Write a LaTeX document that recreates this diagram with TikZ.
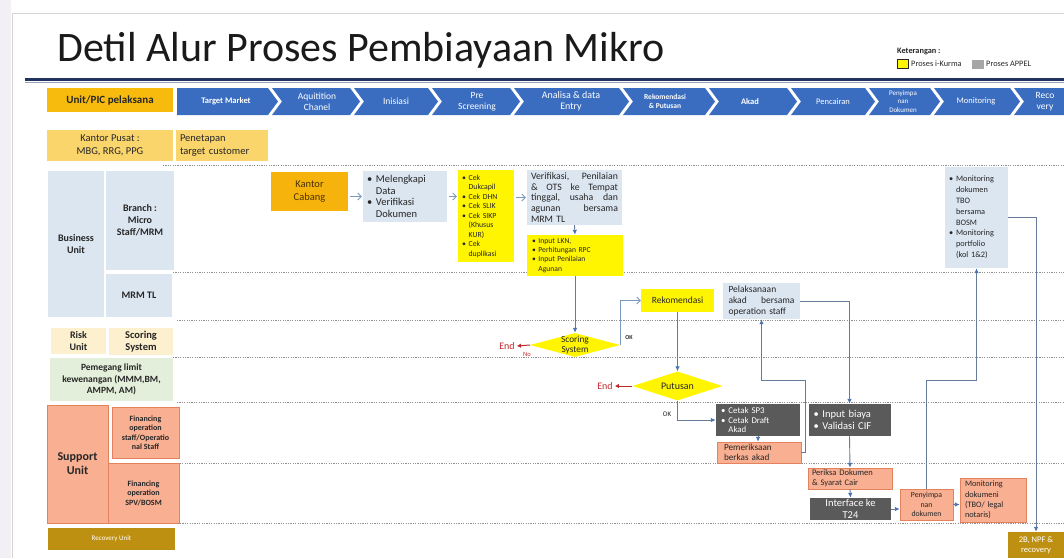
\documentclass[tikz,border=0pt]{standalone}
\usepackage{fontspec}
\setmainfont{Carlito}
\usetikzlibrary{arrows.meta,shapes.geometric}

\definecolor{ink}{HTML}{262626}
\definecolor{titleink}{HTML}{1A1A1A}
\definecolor{navy}{HTML}{1F3260}
\definecolor{navyshade}{HTML}{9AA3B8}
\definecolor{headgold}{HTML}{F7BB0E}
\definecolor{chevblue}{HTML}{3A6DC0}
\definecolor{pusat}{HTML}{FAD56C}
\definecolor{paleblue}{HTML}{DCE6F1}
\definecolor{cream}{HTML}{FDF0CF}
\definecolor{palegreen}{HTML}{E3EFDB}
\definecolor{salmon}{HTML}{F8AF92}
\definecolor{salmonline}{HTML}{E4825E}
\definecolor{darkgold}{HTML}{BE9012}
\definecolor{kurma}{HTML}{FFF500}
\definecolor{cabang}{HTML}{F6B30B}
\definecolor{cabangink}{HTML}{4A3300}
\definecolor{appel}{HTML}{5A5A5A}
\definecolor{legendgrey}{HTML}{A6A6A6}
\definecolor{flow}{HTML}{667A99}
\definecolor{tipblue}{HTML}{4A72AE}
\definecolor{barb}{HTML}{7C98BF}
\definecolor{endred}{HTML}{C0282C}
\definecolor{laneclr}{HTML}{8E8E8E}
\definecolor{edgegrey}{HTML}{F2F0F4}
\definecolor{edgeline}{HTML}{D6D6D6}

\newcommand\fsz[2]{\fontsize{#1}{#2}\selectfont}
\newcommand\bitem{\makebox[0.85em][l]{•}}
\newcommand\bcont{\hspace*{0.85em}}
% box given by its corners: [options]{name}{x1}{y1}{x2}{y2}{text}
\newcommand\cellbox[7][]{%
  \node[cell,minimum width={#5-#3},minimum height={#6-#4},#1] (#2)
    at ({(#3+#5)/2},{(#4+#6)/2}) {#7};}
% process chevron with a notch on its left: {left}{tip}
\newcommand\chevron[2]{%
  \fill[chevblue] (#1,88) -- ({#2-10},88) -- (#2,101.5) -- ({#2-10},115)
    -- (#1,115) -- ({#1+10},101.5) -- cycle;}

\tikzset{
  cell/.style={inner sep=0pt, align=center, text=ink},
  lane/.style={draw=laneclr, line width=0.7pt, dash pattern=on 1.1pt off 1.3pt},
  arr/.style={draw=flow, line width=0.9pt, -{Latex[length=5pt,width=4.5pt,color=tipblue]}},
  openarr/.style={draw=barb, line width=0.8pt, -{Straight Barb[length=3.5pt,width=7pt]}},
  endarr/.style={draw=endred, line width=1pt, -{Latex[length=4pt,width=4.5pt]}},
  endtxt/.style={text=endred, inner sep=0pt, font=\fsz{10}{12}},
  oktxt/.style={text=ink, inner sep=0pt, font=\bfseries\fsz{6}{7}},
  chevtxt/.style={text=white, align=center, inner sep=0pt, font=\fsz{9.5}{11}},
  legtxt/.style={anchor=west, inner sep=0pt, text=ink, font=\fsz{8.3}{9}},
}

\begin{document}
\begin{tikzpicture}[x=1pt,y=-1pt]
\useasboundingbox (0,0) rectangle (1064,558);

% slide edge
\fill[edgegrey] (0,0) rectangle (11,558);
\draw[edgeline, line width=0.8pt] (12,13) -- (1064,13);
\draw[edgeline, line width=0.8pt] (12,13) -- (12,558);

% title and rule
\node[anchor=base west, inner sep=0pt, text=titleink, font=\fsz{42}{50}] (title) at (57,61)
  {Detil Alur Proses Pembiayaan Mikro};
\draw[navy, line width=3pt] (25,79) -- (1064,79);
\draw[navyshade, line width=0.8pt] (25,82.5) -- (1064,82.5);

% legend
\node[legtxt, font=\bfseries\fsz{8.3}{9}] (legtitle) at (897,52) {Keterangan :};
\node[draw=ink, fill=kurma, line width=0.6pt, minimum width=11pt, minimum height=9pt, inner sep=0pt] (legkurma) at (903,64) {};
\node[legtxt] (legkurmatxt) at (911,64) {Proses i-Kurma};
\node[fill=legendgrey, minimum width=12pt, minimum height=9pt, inner sep=0pt] (legappel) at (978,64) {};
\node[legtxt] (legappeltxt) at (986,64) {Proses APPEL};

% header row
\cellbox[fill=headgold, font=\bfseries\fsz{11}{13}]{unitpic}{47}{88}{173}{112}{Unit/PIC pelaksana}
\fill[chevblue] (177,88) -- (268,88) -- (278,101.5) -- (268,115) -- (177,115) -- cycle;
\chevron{272}{360}
\chevron{354}{438}
\chevron{432}{520}
\chevron{514}{629}
\chevron{623}{715}
\chevron{709}{797}
\chevron{791}{875}
\chevron{869}{940}
\chevron{934}{1020}
\chevron{1014}{1090}
\node[chevtxt, font=\bfseries\fsz{8.5}{10}] (cTarget) at (226,101.5) {Target Market};
\node[chevtxt] (cAqui) at (317,101.5) {Aquitition\\Chanel};
\node[chevtxt] (cInis) at (396,101.5) {Inisiasi};
\node[chevtxt] (cPre) at (477,101.5) {Pre\\Screening};
\node[chevtxt, font=\fsz{10}{11}] (cAnal) at (571,101.5) {Analisa \& data\\Entry};
\node[chevtxt, font=\bfseries\fsz{7.5}{9}] (cRekom) at (665,101.5) {Rekomendasi\\\& Putusan};
\node[chevtxt, font=\bfseries\fsz{8.5}{10}] (cAkad) at (750,101.5) {Akad};
\node[chevtxt, font=\fsz{8.5}{10}] (cCair) at (833,101.5) {Pencairan};
\node[chevtxt, font=\fsz{7}{8.3}] (cSimpan) at (903,101.5) {Penyimpa\\nan\\Dokumen};
\node[chevtxt, font=\fsz{8.5}{10}] (cMonit) at (976,101.5) {Monitoring};
\node[chevtxt] (cReco) at (1045,101.5) {Reco\\very};

% swimlane separators
\foreach \yy/\xx in {165/163, 272/173, 320/177, 357/173, 402/177, 463/175, 523/180}
  \draw[lane] (\xx,\yy) -- (1064,\yy);

% lane headers
\cellbox[fill=pusat, font=\fsz{10.5}{12.5}]{kpusat}{47}{130}{173}{161}{Kantor Pusat :\\MBG, RRG, PPG}
\cellbox[fill=pusat, font=\fsz{10.5}{12.5}, align=left, text width=84pt, inner xsep=4pt]{penetapan}{176}{130}{268}{161}{Penetapan\\target customer}
\cellbox[fill=paleblue, font=\bfseries\fsz{10}{12}]{busunit}{48}{171}{104}{317}{Business\\Unit}
\cellbox[fill=paleblue, font=\bfseries\fsz{10}{12}]{branch}{106}{171}{174}{270}{Branch :\\Micro\\Staff/MRM}
\cellbox[fill=paleblue, font=\bfseries\fsz{10}{12}]{mrmtl}{106}{274}{172}{317}{MRM TL}
\cellbox[fill=cream, font=\bfseries\fsz{10}{12}]{riskunit}{51}{328}{106}{354}{Risk\\Unit}
\cellbox[fill=cream, font=\bfseries\fsz{10.5}{12.5}]{scoresys}{109}{328}{173}{355}{Scoring\\System}
\cellbox[fill=palegreen, font=\bfseries\fsz{9.5}{11.5}]{pemegang}{50}{358}{173}{401}{Pemegang limit\\kewenangan (MMM,BM,\\AMPM, AM)}
\cellbox[fill=salmon, draw=salmonline, font=\bfseries\fsz{12}{14}]{support}{47}{405}{108}{523}{Support\\Unit}
\cellbox[fill=salmon, draw=salmonline, font=\bfseries\fsz{8}{9.5}]{finstaff}{112}{407}{179}{458}{Financing\\operation\\staff/Operatio\\nal Staff}
\cellbox[fill=salmon, draw=salmonline, font=\bfseries\fsz{8}{9.5}]{finspv}{108}{463}{179}{523}{Financing\\operation\\SPV/BOSM}
\cellbox[fill=darkgold, text=white, font=\fsz{7}{8.5}]{recunit}{48}{528}{175}{550}{Recovery Unit}

% process steps
\cellbox[fill=cabang, text=cabangink, font=\fsz{10.5}{12.5}]{kcabang}{271}{172}{348}{211}{Kantor\\Cabang}
\cellbox[fill=paleblue, align=left, font=\fsz{10.5}{11.5}, text width=76pt, inner xsep=4pt]{lengkap}{363}{171}{447}{222}{\bitem Melengkapi\\\bcont Data\\\bitem Verifikasi\\\bcont Dokumen}
\cellbox[fill=kurma, align=left, font=\fsz{7.8}{9.5}, text width=48pt, inner xsep=4pt]{cek}{458}{170}{514}{262}{\bitem Cek\\\bcont Dukcapil\\\bitem Cek DHN\\\bitem Cek SLIK\\\bitem Cek SIKP\\\bcont (Khusus\\\bcont KUR)\\\bitem Cek\\\bcont duplikasi}
\cellbox[fill=paleblue, align=left, font=\fsz{9.8}{10.6}, text width=87pt, inner xsep=4pt]{verif}{527}{170}{622}{225}{Verifikasi,\hfill Penilaian\\\&\hfill OTS\hfill ke\hfill Tempat\\tinggal,\hfill usaha\hfill dan\\agunan\hfill bersama\\MRM TL}
\cellbox[fill=kurma, align=left, font=\fsz{7.6}{9.4}, text width=86pt, inner xsep=5pt]{input}{527}{235}{623}{276}{\bitem Input LKN,\\\bitem Perhitungan RPC\\\bitem Input Penilaian\\\bcont Agunan}

\node[diamond, fill=kurma, minimum width=90pt, minimum height=24pt, inner sep=0pt] (scdia) at (575,345) {};
\node[cell, font=\fsz{9.3}{10.5}] (sctext) at (575,345) {Scoring\\System};
\cellbox[fill=kurma, font=\fsz{9.5}{11}]{rekom}{641}{289}{714}{312}{Rekomendasi}
\node[diamond, fill=kurma, minimum width=90pt, minimum height=29pt, inner sep=0pt] (putdia) at (677.5,386) {};
\node[cell, font=\fsz{10}{12}] (puttext) at (677.5,386) {Putusan};

\cellbox[fill=paleblue, align=left, font=\fsz{9.5}{11}, text width=66pt, inner xsep=5pt]{pelaks}{723}{283}{800}{319}{Pelaksanaan\\akad\hfill bersama\\operation staff}
\cellbox[fill=appel, text=white, align=left, font=\fsz{8.8}{9.6}, text width=74pt, inner xsep=5pt]{cetak}{716}{404}{800}{436}{\bitem Cetak SP3\\\bitem Cetak Draft\\\bcont Akad}
\cellbox[fill=salmon, draw=salmonline, align=left, font=\fsz{9.2}{10}, text width=70pt, inner xsep=6pt]{pemeriksaan}{717}{442}{801}{463}{Pemeriksaan\\berkas akad}
\cellbox[fill=appel, text=white, align=left, font=\fsz{10.5}{12.5}, text width=72pt, inner xsep=5pt]{inbiaya}{809}{404}{890}{436}{\bitem Input biaya\\\bitem Validasi CIF}
\cellbox[fill=salmon, draw=salmonline, align=left, font=\fsz{8.5}{9.8}, text width=76pt, inner xsep=4pt]{periksa}{809}{468}{891}{489}{Periksa Dokumen\\\& Syarat Cair}
\cellbox[fill=appel, text=white, font=\fsz{10.5}{11.5}]{interface}{810}{498}{891}{520}{Interface ke\\T24}
\cellbox[fill=salmon, draw=salmonline, font=\fsz{7.8}{9.3}]{simpan}{900}{489}{953}{520}{Penyimpa\\nan\\dokumen}
\cellbox[fill=salmon, draw=salmonline, align=left, font=\fsz{8.3}{10.3}, text width=56pt, inner xsep=5pt]{mondok}{961}{478}{1025}{522}{Monitoring\\dokumeni\\(TBO/ legal\\notaris)}
\cellbox[fill=paleblue, align=left, font=\fsz{8.3}{10.8}, text width=55pt, inner xsep=4pt]{monit}{945}{167}{1008}{268}{\bitem Monitoring\\\bcont dokumen\\\bcont TBO\\\bcont bersama\\\bcont BOSM\\\bitem Monitoring\\\bcont portfolio\\\bcont (kol 1\&2)}
\cellbox[fill=darkgold, text=white, font=\fsz{8.5}{10}]{recovery}{1008}{532}{1064}{558}{2B, NPF \&\\recovery}

% end markers and labels
\node[endtxt] (end1) at (507,346) {End};
\node[text=endred, inner sep=0pt, font=\fsz{6.5}{8}] (nolabel) at (527,354.5) {No};
\node[oktxt] (ok1) at (629,338) {OK};
\node[endtxt] (end2) at (605,386) {End};
\node[oktxt, font=\fsz{7}{8}] (ok2) at (667,414) {OK};

% connectors
\draw[openarr, shorten <=2pt, shorten >=1pt] (kcabang.east |- lengkap.west) -- (lengkap.west);
\draw[openarr, shorten <=2pt, shorten >=1pt] (lengkap.east) -- (cek.west |- lengkap.east);
\draw[openarr, shorten <=2pt, shorten >=1pt] (cek.east |- verif.west) -- (verif.west);
\draw[arr] (verif.south) -- (input.north);
\draw[arr] (input.south) -- (scdia.north);
\draw[openarr] (scdia.east) |- (rekom.west);
\draw[endarr] (scdia.west) -- ([xshift=2pt]end1.east);
\draw[arr] (rekom.south) -- (putdia.north);
\draw[endarr] (putdia.west) -- ([xshift=2pt]end2.east);
\draw[arr] (putdia.south) |- (cetak.west);
\draw[arr] (cetak.south) -- (cetak.south |- pemeriksaan.north);
\coordinate (backturn) at (805,380);
\draw[arr] (pemeriksaan.east) -| (backturn) -| (pelaks.south);
\draw[arr] (pelaks.east) -| (inbiaya.north);
\draw[arr] (inbiaya.south) -- (periksa.north);
\draw[arr] (periksa.south) -- (interface.north);
\draw[arr] (interface.east) -- (interface.east -| simpan.west);
\draw[arr] (simpan.east) -- (simpan.east -| mondok.west);
\coordinate (riseturn) at (926.5,380);
\draw[arr] (simpan.north) -- (riseturn) -| (monit.south);
\draw[arr] (monit.east) -| (recovery.north);
\end{tikzpicture}
\end{document}
